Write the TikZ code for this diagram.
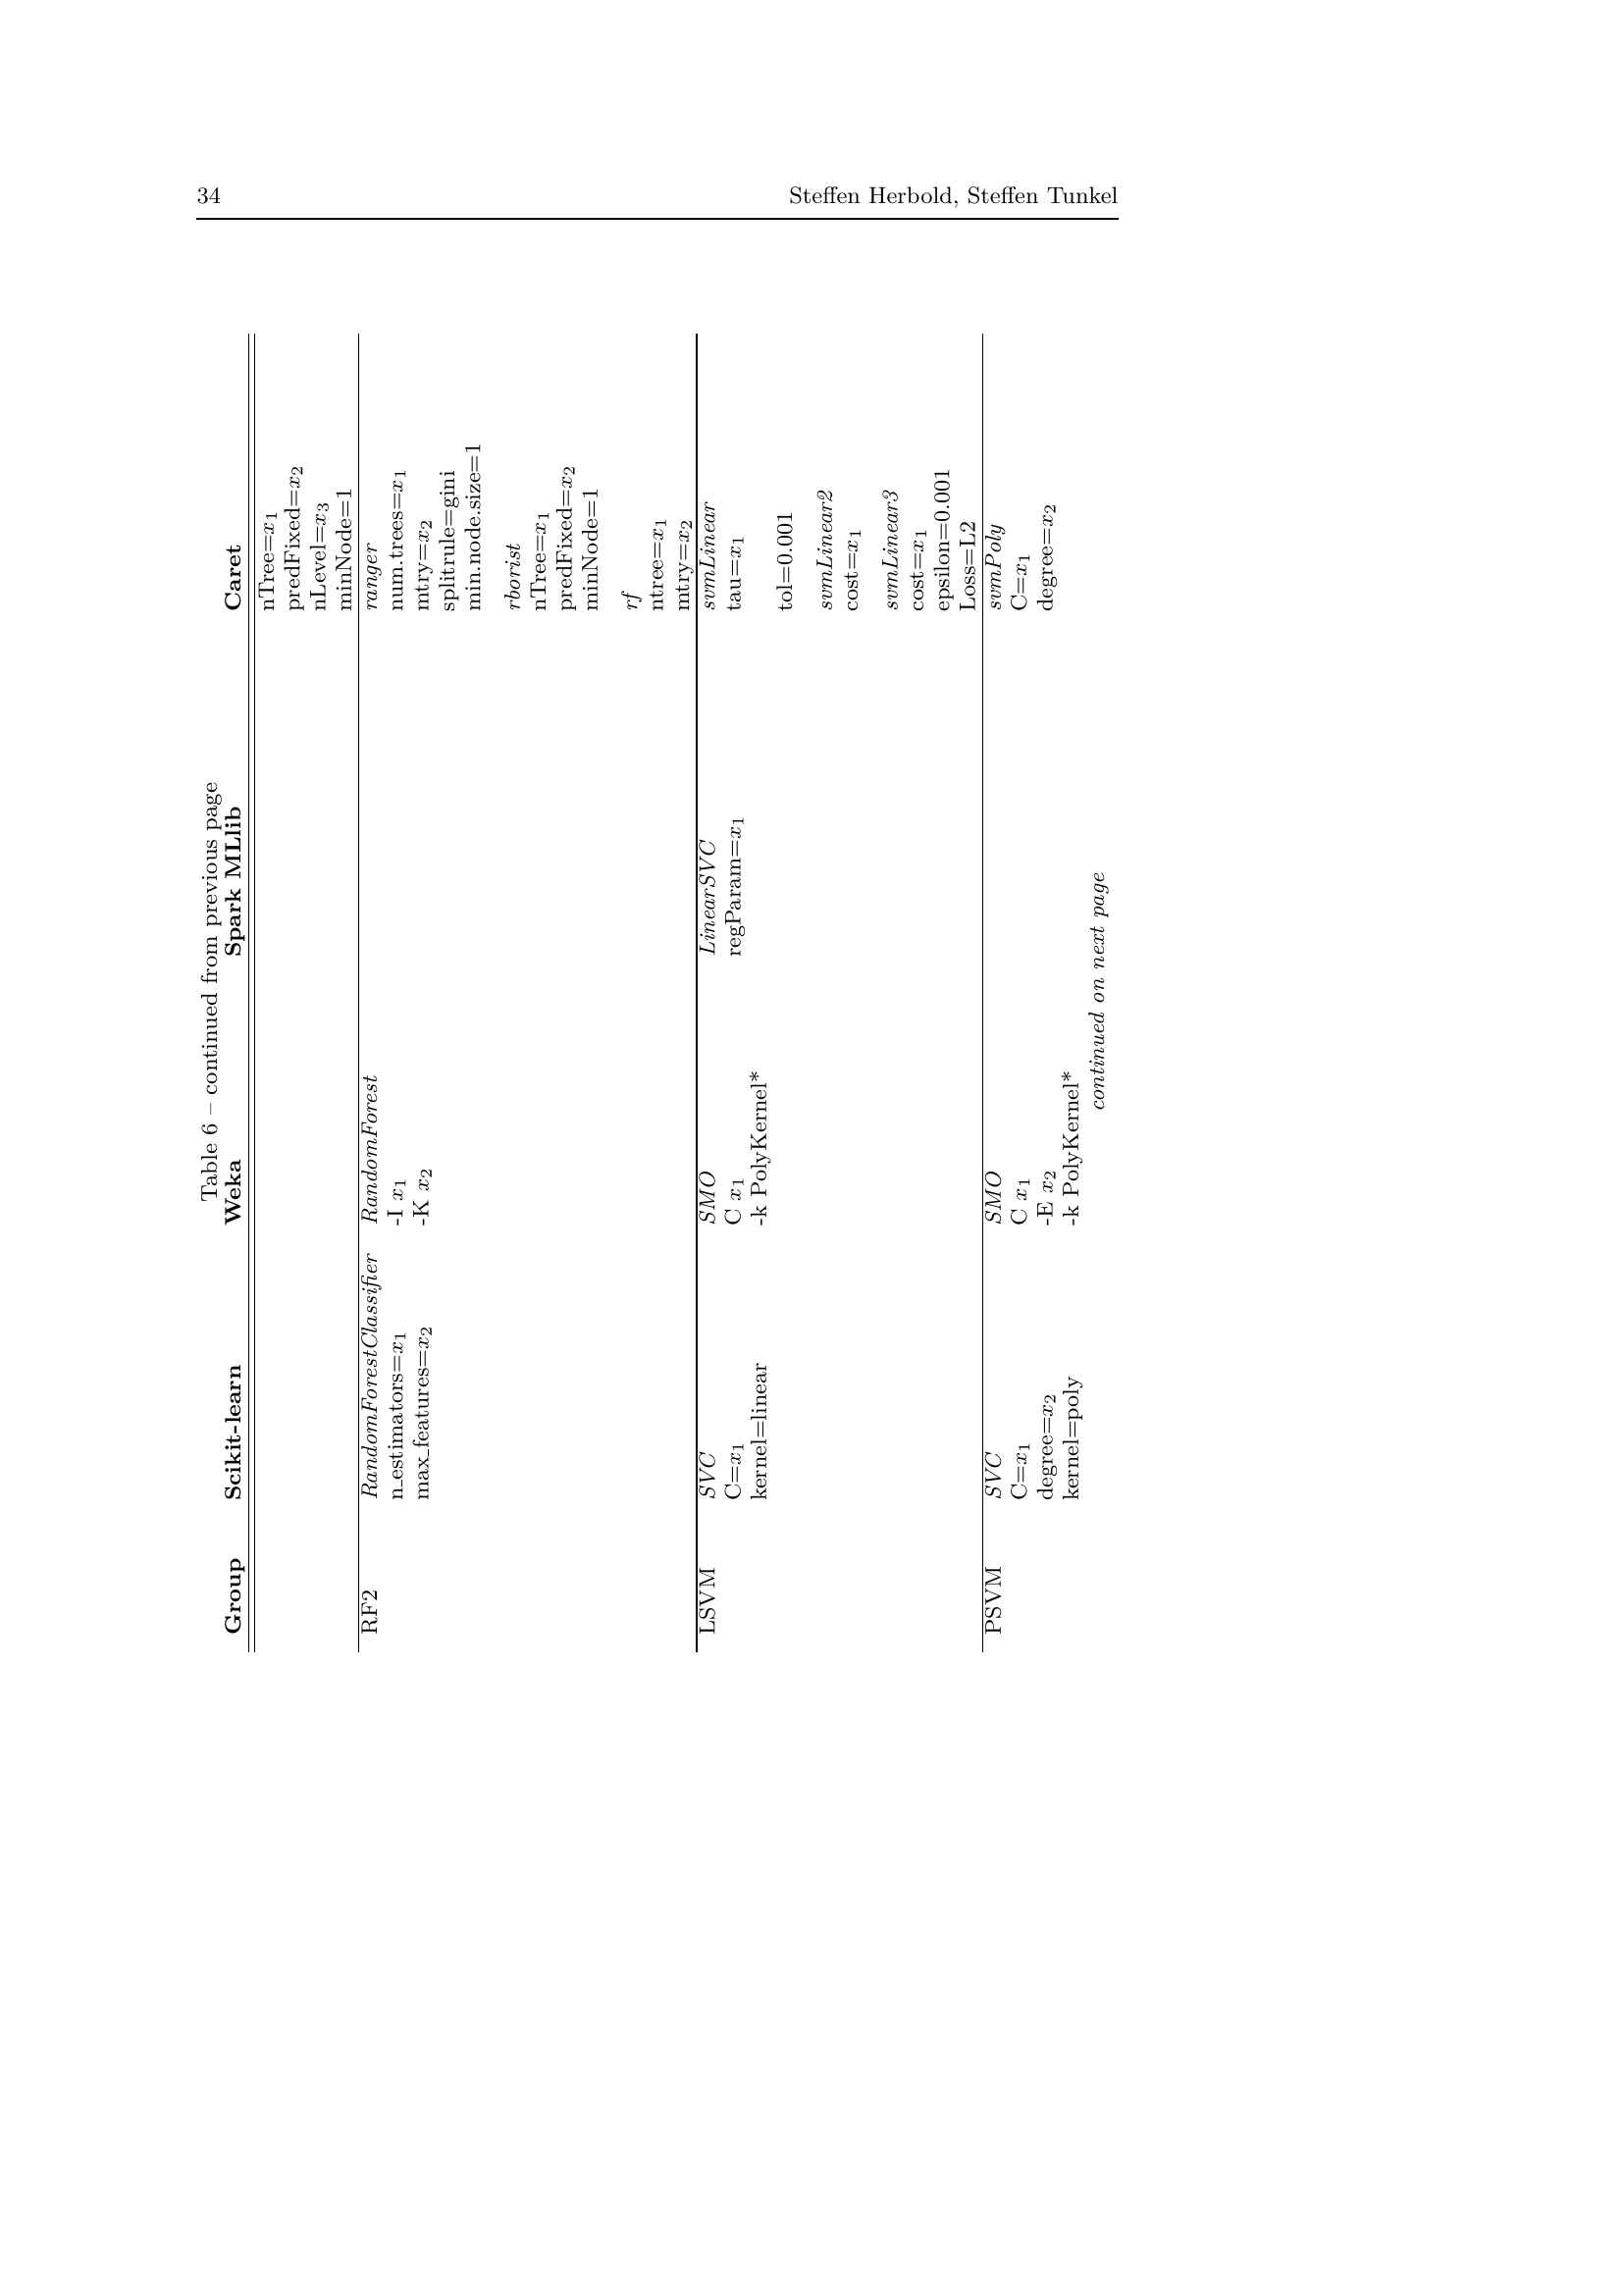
\documentclass[tikz,border=0pt]{standalone}
\newcommand{\uscore}{\leavevmode\kern.06em\vbox{\hrule width.3em}}
\begin{document}
\begin{tikzpicture}[x=0.36135pt, y=-0.36135pt,
  cell/.style={rotate=90, anchor=base west, inner sep=0pt, font=\fontsize{8.2}{9.5}\selectfont},
  head/.style={cell, font=\fontsize{8.2}{9.5}\selectfont\bfseries},
  pagehead/.style={inner sep=0pt, font=\fontsize{8.6}{10}\selectfont},
  captext/.style={rotate=90, anchor=base, inner sep=0pt, font=\fontsize{8.4}{10}\selectfont},
  tabrule/.style={line width=0.45pt},
  headrule/.style={line width=0.9pt}]
\fill[white] (0,0) rectangle (1654,2339);
\useasboundingbox (0,0) rectangle (1654,2339);

% running head
\node[pagehead, anchor=base west] (pgnum) at (200,208) {34};
\node[pagehead, anchor=base east] (authors) at (1140,208) {Steffen Herbold, Steffen Tunkel};
\coordinate (hl) at (200,223);
\coordinate (hr) at (1140,223);
\draw[headrule] (hl) -- (hr);

% caption
\node[captext] (cap) at (221,1011.5) {Table 6 -- continued from previous page};

% rules
\coordinate (d1a) at (253.5,340);  \coordinate (d1b) at (253.5,1684);
\coordinate (d2a) at (259.2,340);  \coordinate (d2b) at (259.2,1684);
\coordinate (r1a) at (365.7,340);  \coordinate (r1b) at (365.7,1684);
\coordinate (r2a) at (709.9,340);  \coordinate (r2b) at (709.9,1684);
\coordinate (r3a) at (1001.5,340); \coordinate (r3b) at (1001.5,1684);
\draw[tabrule] (d1a) -- (d1b);
\draw[tabrule] (d2a) -- (d2b);
\draw[tabrule] (r1a) -- (r1b);
\draw[tabrule] (r2a) -- (r2b);
\draw[tabrule] (r3a) -- (r3b);

% header row
\node[head] (hGroup) at (245.4,1667) {Group};
\node[head] (hSk) at (245.4,1530.5) {Scikit-learn};
\node[head] (hWeka) at (245.4,1250) {Weka};
\node[head] (hSpark) at (245.4,976.5) {Spark MLlib};
\node[head] (hCaret) at (245.4,624) {Caret};

% continuation of previous group
\node[cell] (c01) at (279.0,624) {nTree=$x_1$};
\node[cell] (c02) at (305.3,624) {predFixed=$x_2$};
\node[cell] (c03) at (331.6,624) {nLevel=$x_3$};
\node[cell] (c04) at (357.9,624) {minNode=1};

% RF2
\node[cell] (gRF) at (384.1,1667) {RF2};
\node[cell] (sRF1) at (384.1,1530.5) {\textit{RandomForestClassifier}};
\node[cell] (sRF2) at (410.4,1530.5) {n\uscore estimators=$x_1$};
\node[cell] (sRF3) at (436.7,1530.5) {max\uscore features=$x_2$};
\node[cell] (wRF1) at (384.1,1250) {\textit{RandomForest}};
\node[cell] (wRF2) at (410.4,1250) {-I $x_1$};
\node[cell] (wRF3) at (436.7,1250) {-K $x_2$};
\node[cell] (cRF1) at (384.1,624) {\textit{ranger}};
\node[cell] (cRF2) at (410.4,624) {num.trees=$x_1$};
\node[cell] (cRF3) at (436.7,624) {mtry=$x_2$};
\node[cell] (cRF4) at (463.0,624) {splitrule=gini};
\node[cell] (cRF5) at (489.3,624) {min.node.size=1};
\node[cell] (cRF6) at (529.9,624) {\textit{rborist}};
\node[cell] (cRF7) at (556.2,624) {nTree=$x_1$};
\node[cell] (cRF8) at (582.5,624) {predFixed=$x_2$};
\node[cell] (cRF9) at (608.8,624) {minNode=1};
\node[cell] (cRF10) at (649.4,624) {\textit{rf}};
\node[cell] (cRF11) at (675.7,624) {ntree=$x_1$};
\node[cell] (cRF12) at (702.0,624) {mtry=$x_2$};

% LSVM
\node[cell] (gLS) at (728.3,1667) {LSVM};
\node[cell] (sLS1) at (728.3,1530.5) {\textit{SVC}};
\node[cell] (sLS2) at (754.6,1530.5) {C=$x_1$};
\node[cell] (sLS3) at (780.9,1530.5) {kernel=linear};
\node[cell] (wLS1) at (728.3,1250) {\textit{SMO}};
\node[cell] (wLS2) at (754.6,1250) {C $x_1$};
\node[cell] (wLS3) at (780.9,1250) {-k PolyKernel*};
\node[cell] (pLS1) at (728.3,976.5) {\textit{LinearSVC}};
\node[cell] (pLS2) at (754.6,976.5) {regParam=$x_1$};
\node[cell] (cLS1) at (728.3,624) {\textit{svmLinear}};
\node[cell] (cLS2) at (754.6,624) {tau=$x_1$};
\node[cell] (cLS3) at (807.2,624) {tol=0.001};
\node[cell] (cLS4) at (847.8,624) {\textit{svmLinear2}};
\node[cell] (cLS5) at (874.1,624) {cost=$x_1$};
\node[cell] (cLS6) at (914.7,624) {\textit{svmLinear3}};
\node[cell] (cLS7) at (941.0,624) {cost=$x_1$};
\node[cell] (cLS8) at (967.3,624) {epsilon=0.001};
\node[cell] (cLS9) at (993.6,624) {Loss=L2};

% PSVM
\node[cell] (gPS) at (1019.9,1667) {PSVM};
\node[cell] (sPS1) at (1019.9,1530.5) {\textit{SVC}};
\node[cell] (sPS2) at (1046.2,1530.5) {C=$x_1$};
\node[cell] (sPS3) at (1072.5,1530.5) {degree=$x_2$};
\node[cell] (sPS4) at (1098.8,1530.5) {kernel=poly};
\node[cell] (wPS1) at (1019.9,1250) {\textit{SMO}};
\node[cell] (wPS2) at (1046.2,1250) {C $x_1$};
\node[cell] (wPS3) at (1072.5,1250) {-E $x_2$};
\node[cell] (wPS4) at (1098.8,1250) {-k PolyKernel*};
\node[cell] (cPS1) at (1019.9,624) {\textit{svmPoly}};
\node[cell] (cPS2) at (1046.2,624) {C=$x_1$};
\node[cell] (cPS3) at (1072.5,624) {degree=$x_2$};

% foot
\node[captext, font=\fontsize{8.2}{9.5}\selectfont\itshape] (cont) at (1125.1,1012) {continued on next page};
\end{tikzpicture}
\end{document}
